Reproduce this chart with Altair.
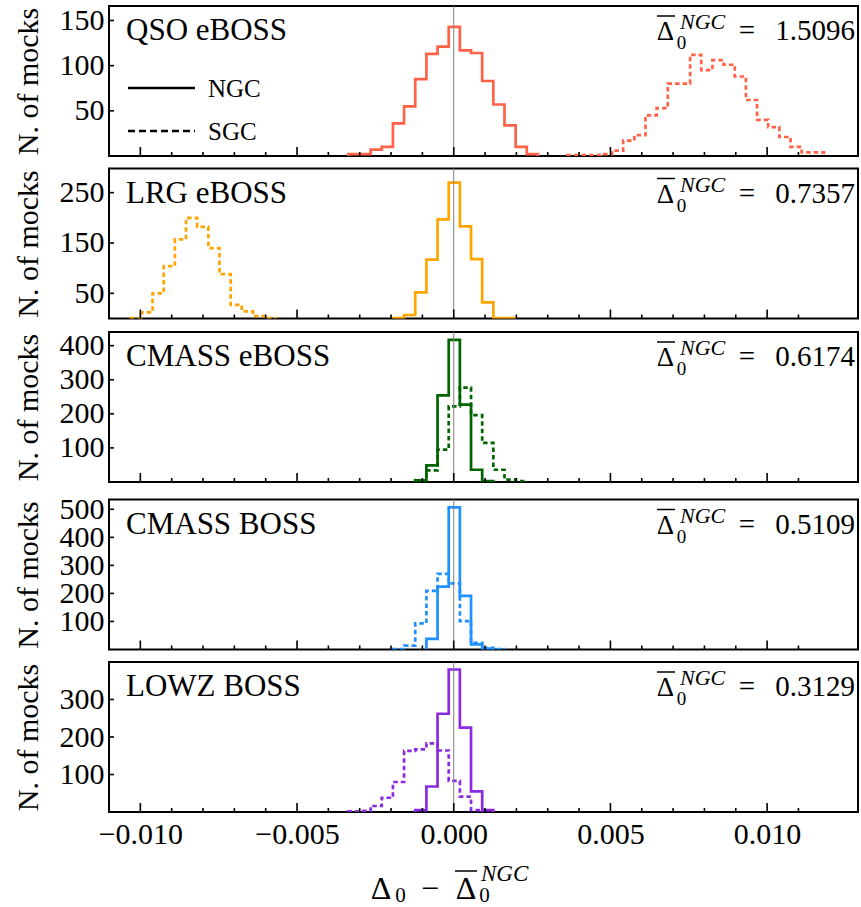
import altair as alt
import pandas as pd

FONT = "Liberation Serif"

# Samples, colours and the mean NGC offsets quoted in each panel
samples = ["QSO eBOSS", "LRG eBOSS", "CMASS eBOSS", "CMASS BOSS", "LOWZ BOSS"]
colors = ["#ff6347", "#ffa500", "#006400", "#1e90ff", "#8a2be2"]
mean_delta_ngc = ["1.5096", "0.7357", "0.6174", "0.5109", "0.3129"]

# Histogram bins: common width, first edge per sample, counts per bin
bin_width = 0.000356

ngc_first_edge = [-0.003364, -0.00194, -0.001228, -0.000872, -0.001228]
ngc_counts = [
    [2, 2, 7, 10, 36, 55, 85, 113, 121, 143, 117, 114, 83, 57, 34, 10, 2],
    [1, 7, 52, 117, 197, 270, 183, 118, 32, 1, 1],
    [5, 49, 254, 417, 227, 36, 3],
    [38, 224, 507, 191, 18, 3],
    [5, 68, 262, 380, 225, 55, 5],
]

sgc_first_edge = [0.003627, -0.010322, -0.001228, -0.00194, -0.003364]
sgc_counts = [
    [1, 1, 1, 2, 6, 17, 23, 45, 53, 80, 80, 112, 95, 106, 101, 88, 62, 40, 32, 21, 10, 4, 4],
    [1, 12, 50, 104, 157, 200, 182, 140, 88, 27, 14, 5, 1],
    [5, 34, 95, 222, 277, 196, 115, 36, 7, 3],
    [1, 14, 93, 209, 270, 236, 101, 24, 6, 1],
    [2, 3, 16, 38, 80, 163, 167, 183, 164, 83, 41, 5],
]

# Axes
y_top = [166, 298, 440, 535, 400]
y_tick_values = [
    [50, 100, 150],
    [50, 150, 250],
    [100, 200, 300, 400],
    [100, 200, 300, 400, 500],
    [100, 200, 300],
]
x_domain = [-0.011, 0.0129]
x_major_ticks = [-0.010, -0.005, 0.0, 0.005, 0.010]
x_minor_ticks = [-0.009, -0.008, -0.007, -0.006, -0.004, -0.003, -0.002, -0.001,
                 0.001, 0.002, 0.003, 0.004, 0.006, 0.007, 0.008, 0.009, 0.011]
zero_line = [0.0]

W, H = 749, 150
xscale = alt.Scale(domain=x_domain, nice=False, zero=False)


def step_outline(first_edge, counts):
    """Outline of a step histogram: up at the first edge, across each bin, down at the last."""
    xs, ys = [first_edge], [0]
    for i, c in enumerate(counts):
        left = first_edge + i * bin_width
        xs += [left, left + bin_width]
        ys += [c, c]
    xs.append(first_edge + len(counts) * bin_width)
    ys.append(0)
    return pd.DataFrame({"x": xs, "y": ys, "k": list(range(len(xs)))})


def text_layer(label, x, y, size, align="left", style="normal"):
    return alt.Chart(pd.DataFrame({"label": [label]})).mark_text(
        font=FONT, fontSize=size, fontStyle=style, align=align,
        baseline="alphabetic", color="black",
    ).encode(text="label:N", x=alt.value(x), y=alt.value(y))


def bar_layer(x1, x2, y, width=1.5, dash=None):
    kw = {"color": "black", "strokeWidth": width}
    if dash:
        kw["strokeDash"] = dash
    return alt.Chart(pd.DataFrame({"k": [0]})).mark_rule(**kw).encode(
        x=alt.value(x1), x2=alt.value(x2), y=alt.value(y)
    )


def panel(i):
    bottom = i == len(samples) - 1
    yscale = alt.Scale(domain=[0, y_top[i]], nice=False, zero=True)

    if bottom:
        x_axis = alt.Axis(
            values=x_major_ticks, format=".3f", ticks=False, domain=False, grid=False,
            labelFont=FONT, labelFontSize=30, labelColor="black", labelPadding=7,
            labelFlush=False, labelOverlap=False, title=None,
        )
    else:
        x_axis = None

    y_axis = alt.Axis(
        values=y_tick_values[i], ticks=False, domain=False, grid=False,
        labelFont=FONT, labelFontSize=30, labelColor="black", labelPadding=5,
        labelOverlap=False, labelFlush=False,
        title="N. of mocks", titleFont=FONT, titleFontSize=30,
        titleFontWeight="normal", titleColor="black", titlePadding=16,
    )

    # the same encodings on every layer that uses the scales, so the axes merge
    def xe():
        return alt.X("x:Q", scale=xscale, axis=x_axis, title=None)

    def ye():
        return alt.Y("y:Q", scale=yscale, axis=y_axis, title="N. of mocks")

    ngc = alt.Chart(step_outline(ngc_first_edge[i], ngc_counts[i])).mark_line(
        color=colors[i], strokeWidth=2.7, clip=True, strokeJoin="miter"
    ).encode(x=xe(), y=ye(), order="k:Q")
    sgc = alt.Chart(step_outline(sgc_first_edge[i], sgc_counts[i])).mark_line(
        color=colors[i], strokeWidth=2.7, clip=True, strokeDash=[4.5, 3], strokeJoin="miter"
    ).encode(x=xe(), y=ye(), order="k:Q")
    zero = alt.Chart(pd.DataFrame({"x": zero_line})).mark_rule(
        color="#808080", strokeWidth=1
    ).encode(x=xe())

    major = alt.Chart(pd.DataFrame({"x": x_major_ticks})).mark_rule(
        color="black", strokeWidth=1.6
    ).encode(x=xe(), y=alt.value(H), y2=alt.value(H - 9))
    minor = alt.Chart(pd.DataFrame({"x": x_minor_ticks})).mark_rule(
        color="black", strokeWidth=1.6
    ).encode(x=xe(), y=alt.value(H), y2=alt.value(H - 4))
    yticks = alt.Chart(pd.DataFrame({"y": y_tick_values[i]})).mark_rule(
        color="black", strokeWidth=1.6
    ).encode(y=ye(), x=alt.value(0), x2=alt.value(5))

    layers = [ngc, sgc, zero, major, minor, yticks]

    # sample name and the mean NGC offset
    layers += [
        text_layer(samples[i], 17, 34, 31),
        text_layer("Δ", 556.5, 34, 27, "center"),
        bar_layer(548, 566, 10),
        text_layer("0", 572.5, 43, 19, "center"),
        text_layer("NGC", 571, 23, 22, "left", "italic"),
        text_layer("=", 638, 34, 29, "center"),
        text_layer(mean_delta_ngc[i], 746, 34, 29, "right"),
    ]

    if i == 0:
        # line-style key
        layers += [
            bar_layer(19, 86, 82, 2.5),
            bar_layer(19, 86, 125, 2.5, [7, 4]),
            text_layer("NGC", 99, 91, 25),
            text_layer("SGC", 99, 134, 25),
        ]

    if bottom:
        # x-axis title: Δ0 − Δ̄0^NGC
        layers += [
            text_layer("Δ", 272, 237, 32, "center"),
            text_layer("0", 291.5, 240, 21, "center"),
            text_layer("−", 321, 237, 32, "center"),
            text_layer("Δ", 357, 237, 32, "center"),
            bar_layer(346, 368, 209),
            text_layer("0", 375.5, 240, 21, "center"),
            text_layer("NGC", 372, 219, 23, "left", "italic"),
        ]

    return alt.layer(*layers).properties(width=W, height=H)


chart = alt.vconcat(*[panel(i) for i in range(len(samples))], spacing=8.5).properties(
    padding={"left": 12, "top": 4, "right": 2, "bottom": 0}
).configure_view(stroke="black", strokeWidth=2).configure_axis(grid=False)

chart.save("out.html", embed_options={"renderer": "svg", "actions": False})
